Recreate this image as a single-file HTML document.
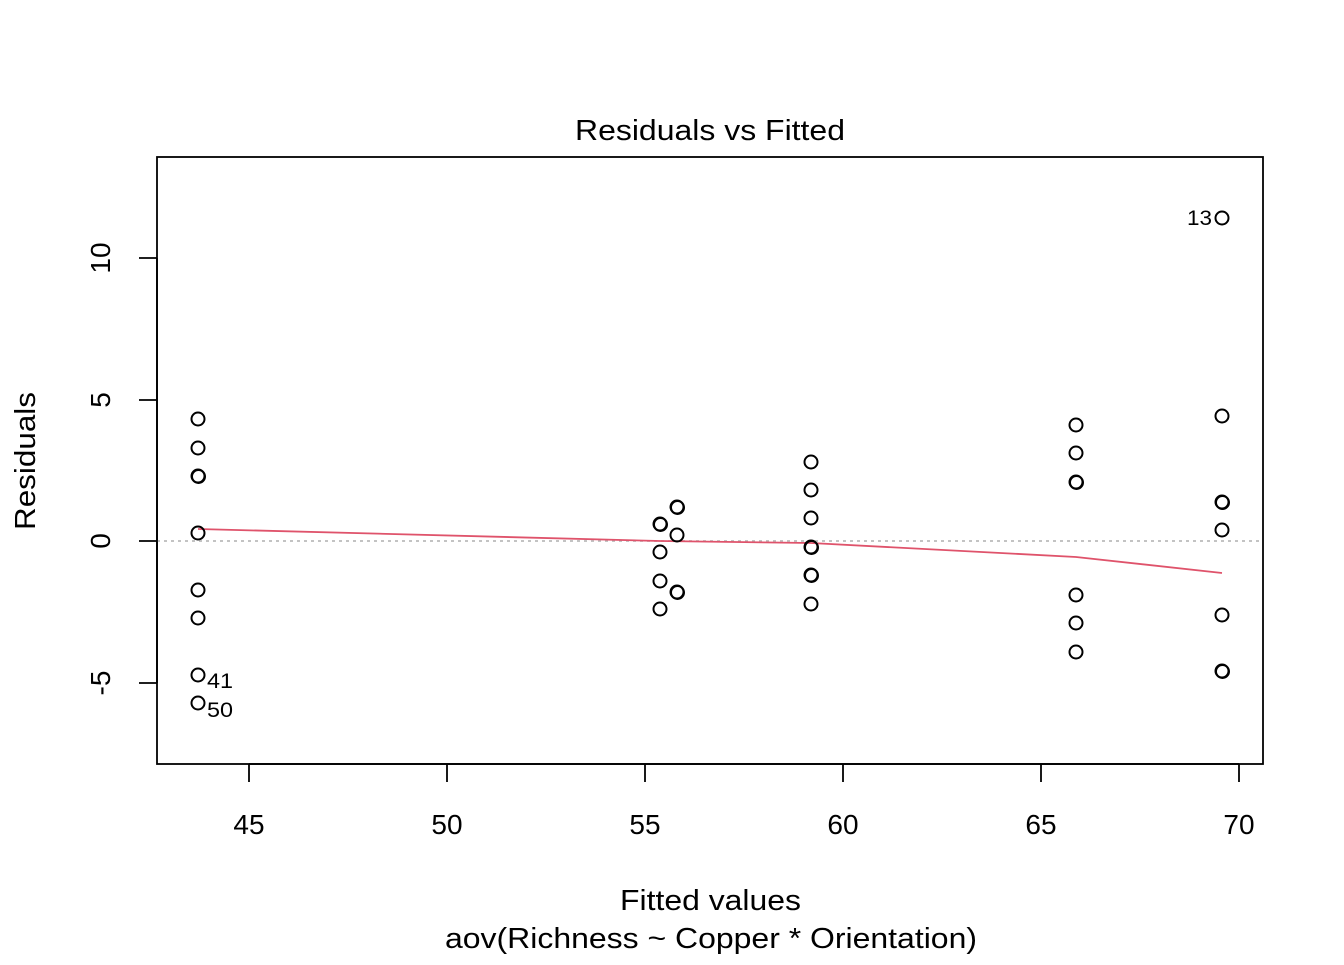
<!DOCTYPE html>
<html><head><meta charset="utf-8"><style>html,body{margin:0;padding:0;background:#fff}</style></head>
<body>
<svg width="1344" height="960" xmlns="http://www.w3.org/2000/svg" font-family="Liberation Sans, Arial, sans-serif">
<rect width="1344" height="960" fill="#fff"/>
<text x="575" y="140" font-size="29" textLength="270" lengthAdjust="spacingAndGlyphs">Residuals vs Fitted</text>
<rect x="157" y="157" width="1106" height="607" fill="none" stroke="#000" stroke-width="1.8"/>
<line x1="157" y1="541" x2="1263" y2="541" stroke="#bbb" stroke-width="1.8" stroke-dasharray="3,4"/>
<g stroke="#000" stroke-width="1.8">
<line x1="249" y1="764" x2="249" y2="782"/><line x1="447" y1="764" x2="447" y2="782"/><line x1="645" y1="764" x2="645" y2="782"/><line x1="843" y1="764" x2="843" y2="782"/><line x1="1041" y1="764" x2="1041" y2="782"/><line x1="1239" y1="764" x2="1239" y2="782"/>
<line x1="249" y1="764" x2="1239" y2="764"/>
<line x1="139" y1="258" x2="157" y2="258"/><line x1="139" y1="400" x2="157" y2="400"/><line x1="139" y1="541" x2="157" y2="541"/><line x1="139" y1="683" x2="157" y2="683"/>
<line x1="157" y1="258" x2="157" y2="683"/>
</g>
<g font-size="28" text-anchor="middle">
<text x="249" y="834">45</text><text x="447" y="834">50</text><text x="645" y="834">55</text><text x="843" y="834">60</text><text x="1041" y="834">65</text><text x="1239" y="834">70</text>
<text transform="translate(110,258) rotate(-90)">10</text>
<text transform="translate(110,400) rotate(-90)">5</text>
<text transform="translate(110,541) rotate(-90)">0</text>
<text transform="translate(110,683) rotate(-90)">-5</text>
</g>
<g font-size="29">
<text x="620" y="910" textLength="181" lengthAdjust="spacingAndGlyphs">Fitted values</text>
<text x="445" y="948" textLength="532" lengthAdjust="spacingAndGlyphs">aov(Richness ~ Copper * Orientation)</text>
<text transform="translate(35,530) rotate(-90)" textLength="138" lengthAdjust="spacingAndGlyphs">Residuals</text>
</g>
<polyline points="198,529 660,541 811,543 1076,557 1222,573" fill="none" stroke="#DF536B" stroke-width="1.8"/>
<g fill="none" stroke="#000" stroke-width="2">
<circle cx="198" cy="419" r="6.5"/><circle cx="198" cy="448" r="6.5"/><circle cx="198" cy="476" r="6.5"/><circle cx="198.5" cy="476.5" r="6.5"/><circle cx="198" cy="533" r="6.5"/><circle cx="198" cy="590" r="6.5"/><circle cx="198" cy="618" r="6.5"/><circle cx="198" cy="675" r="6.5"/><circle cx="198" cy="703" r="6.5"/>
<circle cx="660" cy="524" r="6.5"/><circle cx="660.5" cy="524.5" r="6.5"/><circle cx="660" cy="552" r="6.5"/><circle cx="660" cy="581" r="6.5"/><circle cx="660" cy="609" r="6.5"/>
<circle cx="677" cy="507" r="6.5"/><circle cx="677.5" cy="507.5" r="6.5"/><circle cx="677" cy="535" r="6.5"/><circle cx="677" cy="592" r="6.5"/><circle cx="677.5" cy="592.5" r="6.5"/>
<circle cx="811" cy="462" r="6.5"/><circle cx="811" cy="490" r="6.5"/><circle cx="811" cy="518" r="6.5"/><circle cx="811" cy="547" r="6.5"/><circle cx="811.5" cy="547.5" r="6.5"/><circle cx="811" cy="575" r="6.5"/><circle cx="811.5" cy="575.5" r="6.5"/><circle cx="811" cy="604" r="6.5"/>
<circle cx="1076" cy="425" r="6.5"/><circle cx="1076" cy="453" r="6.5"/><circle cx="1076" cy="482" r="6.5"/><circle cx="1076.5" cy="482.5" r="6.5"/><circle cx="1076" cy="595" r="6.5"/><circle cx="1076" cy="623" r="6.5"/><circle cx="1076" cy="652" r="6.5"/>
<circle cx="1222" cy="218" r="6.5"/><circle cx="1222" cy="416" r="6.5"/><circle cx="1222" cy="502" r="6.5"/><circle cx="1222.5" cy="502.5" r="6.5"/><circle cx="1222" cy="530" r="6.5"/><circle cx="1222" cy="615" r="6.5"/><circle cx="1222" cy="671" r="6.5"/><circle cx="1222.5" cy="671.5" r="6.5"/>
</g>
<g font-size="21">
<text x="1187" y="225" textLength="25" lengthAdjust="spacingAndGlyphs">13</text>
<text x="207" y="688" textLength="26" lengthAdjust="spacingAndGlyphs">41</text>
<text x="207" y="717" textLength="26" lengthAdjust="spacingAndGlyphs">50</text>
</g>
</svg>
</body></html>
